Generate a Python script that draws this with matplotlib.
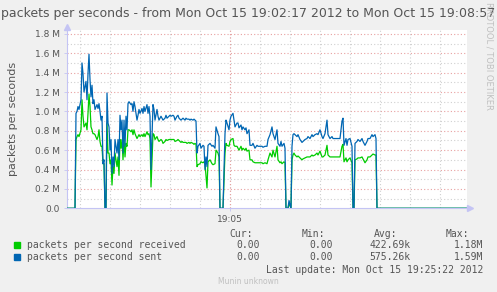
import matplotlib
matplotlib.use("Agg")
import matplotlib.pyplot as plt
import numpy as np

# seconds after 19:02:17, values in millions of packets per second
t_sec = [0, 8, 9, 10, 11, 12, 14, 15, 16, 17, 19, 20, 21, 22, 23, 24, 25, 26, 27, 28,
         30, 31, 32, 33, 34, 35, 36, 37, 38, 39, 40, 41, 42, 43, 44, 45, 46, 47, 48, 50,
         51, 52, 53, 54, 55, 56, 57, 58, 59, 60, 61, 62, 64, 65, 66, 67, 68, 70, 71, 72,
         73, 75, 76, 77, 78, 80, 81, 82, 83, 84, 86, 87, 88, 90, 91, 92, 94, 95, 96, 98,
         99, 100, 102, 103, 104, 106, 107, 108, 110, 111, 112, 114, 115, 116, 118, 119, 120, 122, 123, 124,
         126, 127, 128, 129, 130, 131, 133, 134, 136, 137, 138, 139, 140, 141, 143, 145, 146, 148, 149, 151,
         152, 153, 156, 158, 159, 160, 162, 163, 164, 166, 167, 168, 170, 171, 172, 174, 175, 176, 178, 179,
         180, 182, 183, 185, 186, 188, 190, 191, 193, 195, 196, 198, 200, 201, 203, 205, 206, 208, 210, 211,
         213, 214, 215, 217, 218, 219, 221, 222, 224, 225, 226, 227, 228, 230, 231, 233, 235, 236, 238, 240,
         241, 243, 245, 246, 248, 250, 251, 253, 255, 256, 258, 260, 261, 263, 265, 266, 268, 270, 271, 273,
         275, 276, 277, 279, 280, 281, 283, 285, 286, 287, 288, 290, 291, 293, 295, 296, 298, 300, 301, 303,
         305, 306, 308, 309, 310, 400]

sent = [0, 0, 0.98, 1.00, 1.05, 1.02, 1.12, 1.50, 1.39, 1.20, 1.31, 1.12, 1.39, 1.59, 1.33, 1.15, 1.27, 1.08, 1.12, 1.02,
        1.07, 1.03, 1.08, 1.00, 0.91, 0.95, 0.46, 0.50, 0.0, 0.0, 1.19, 0.88, 0.84, 0.60, 0.71, 0.36, 0.53, 0.43, 0.71, 0.57,
        0.71, 0.50, 0.96, 0.81, 0.91, 0.57, 0.91, 0.64, 0.95, 0.81, 1.08, 1.10, 1.07, 1.08, 1.00, 1.10, 1.05, 0.91, 0.96, 1.02,
        0.98, 1.03, 0.98, 1.05, 1.00, 1.07, 0.98, 1.05, 0.95, 0.40, 1.07, 1.02, 0.91, 1.02, 0.95, 0.91, 0.95, 0.93, 0.91, 0.93,
        0.96, 0.93, 0.95, 0.96, 0.95, 0.96, 0.95, 0.91, 0.95, 0.96, 0.93, 0.91, 0.92, 0.93, 0.91, 0.93, 0.92, 0.92, 0.91, 0.92,
        0.91, 0.92, 0.91, 0.90, 0.57, 0.64, 0.67, 0.62, 0.65, 0.64, 0.40, 0.53, 0.43, 0.65, 0.67, 0.64, 0.65, 0.62, 0.84, 0.77,
        0.74, 0.0, 0.0, 0.77, 0.91, 0.88, 0.81, 0.91, 0.95, 0.98, 0.91, 0.84, 0.88, 0.88, 0.83, 0.86, 0.81, 0.84, 0.81, 0.83,
        0.77, 0.81, 0.65, 0.65, 0.67, 0.62, 0.65, 0.64, 0.64, 0.64, 0.63, 0.64, 0.64, 0.71, 0.76, 0.84, 0.77, 0.71, 0.81, 0.67,
        0.64, 0.69, 0.64, 0.67, 0.62, 0.0, 0.0, 0.08, 0.0, 0.64, 0.76, 0.77, 0.76, 0.74, 0.76, 0.71, 0.68, 0.69, 0.71, 0.72,
        0.74, 0.72, 0.76, 0.74, 0.76, 0.77, 0.76, 0.81, 0.74, 0.72, 0.77, 0.91, 0.76, 0.72, 0.74, 0.72, 0.72, 0.72, 0.72, 0.72,
        0.90, 0.93, 0.65, 0.72, 0.65, 0.71, 0.72, 0.64, 0.0, 0.0, 0.67, 0.69, 0.71, 0.69, 0.72, 0.69, 0.65, 0.69, 0.72, 0.72,
        0.76, 0.74, 0.76, 0.72, 0.0, 0.0]

received = [0, 0, 0.71, 0.74, 0.76, 0.74, 0.81, 1.12, 0.95, 0.84, 0.88, 0.81, 0.98, 1.18, 1.05, 0.84, 0.81, 0.77, 0.77, 0.76,
            0.71, 0.74, 0.81, 0.69, 0.64, 0.64, 0.46, 0.46, 0.0, 0.0, 0.88, 0.57, 0.57, 0.46, 0.50, 0.24, 0.43, 0.36, 0.57, 0.43,
            0.53, 0.34, 0.71, 0.62, 0.71, 0.50, 0.71, 0.53, 0.67, 0.64, 0.81, 0.81, 0.79, 0.81, 0.76, 0.81, 0.77, 0.72, 0.74, 0.76,
            0.74, 0.76, 0.74, 0.77, 0.74, 0.79, 0.76, 0.77, 0.72, 0.22, 0.77, 0.76, 0.71, 0.74, 0.71, 0.69, 0.71, 0.70, 0.67, 0.69,
            0.71, 0.70, 0.71, 0.71, 0.71, 0.71, 0.71, 0.69, 0.70, 0.71, 0.70, 0.68, 0.69, 0.68, 0.68, 0.68, 0.67, 0.68, 0.67, 0.68,
            0.67, 0.66, 0.67, 0.66, 0.43, 0.45, 0.46, 0.48, 0.47, 0.48, 0.46, 0.33, 0.21, 0.48, 0.50, 0.46, 0.45, 0.46, 0.60, 0.57,
            0.53, 0.0, 0.0, 0.57, 0.67, 0.65, 0.64, 0.69, 0.71, 0.72, 0.65, 0.64, 0.64, 0.62, 0.60, 0.64, 0.60, 0.62, 0.60, 0.62,
            0.59, 0.60, 0.50, 0.50, 0.48, 0.47, 0.47, 0.47, 0.47, 0.47, 0.46, 0.47, 0.46, 0.50, 0.57, 0.53, 0.60, 0.53, 0.64, 0.50,
            0.47, 0.48, 0.46, 0.48, 0.47, 0.0, 0.0, 0.05, 0.0, 0.50, 0.55, 0.57, 0.55, 0.53, 0.54, 0.52, 0.50, 0.51, 0.52, 0.53,
            0.53, 0.53, 0.55, 0.54, 0.55, 0.57, 0.55, 0.59, 0.53, 0.53, 0.55, 0.65, 0.55, 0.53, 0.53, 0.53, 0.53, 0.53, 0.53, 0.53,
            0.64, 0.66, 0.48, 0.52, 0.48, 0.50, 0.52, 0.47, 0.0, 0.0, 0.50, 0.51, 0.52, 0.52, 0.53, 0.51, 0.47, 0.50, 0.53, 0.53,
            0.55, 0.56, 0.55, 0.55, 0.0, 0.0]

y_ticks = [0.0, 0.2, 0.4, 0.6, 0.8, 1.0, 1.2, 1.4, 1.6, 1.8]
y_tick_labels = ["0.0", "0.2 M", "0.4 M", "0.6 M", "0.8 M", "1.0 M", "1.2 M", "1.4 M", "1.6 M", "1.8 M"]
minor_times = [13 + 30 * k for k in range(13)]
major_time, major_label = 163, "19:05"

legend_names = ["packets per second received", "packets per second sent"]
legend_colors = ["#00cc00", "#0066b3"]
stat_heads = ["Cur:", "Min:", "Avg:", "Max:"]
stat_values = [["0.00", "0.00", "422.69k", "1.18M"],
               ["0.00", "0.00", "575.26k", "1.59M"]]

W, H = 497, 292
TXT = "#555555"
MONO = "DejaVu Sans Mono"
AXC = "#c4c4f4"

fig = plt.figure(figsize=(W / 100, H / 100), dpi=100, facecolor="#f0f0f0")
ax = fig.add_axes([67 / W, (H - 208.3) / H, 400 / W, 178.3 / H])
ax.set_facecolor("white")
ax.set_xlim(0, 400)
ax.set_ylim(0, 1.84e6)

# grid: minor grey, major red, all dotted
for v in np.arange(0.1, 1.81, 0.1):
    major = abs(v * 5 - round(v * 5)) < 1e-6
    ax.axhline(v * 1e6, color="#e8a0a0" if major else "#d0d0d0", lw=0.8,
               ls=(0, (1, 2)), zorder=1)
for tm in minor_times:
    ax.axvline(tm, color="#d0d0d0", lw=0.8, ls=(0, (1, 2)), zorder=1)
ax.axvline(major_time, color="#e8a0a0", lw=0.8, ls=(0, (1, 2)), zorder=1)

ax.plot(t_sec, np.array(received) * 1e6, color=legend_colors[0], lw=0.9, zorder=3)
ax.plot(t_sec, np.array(sent) * 1e6, color=legend_colors[1], lw=0.9, zorder=4)

for s in ["top", "right"]:
    ax.spines[s].set_visible(False)
for s in ["left", "bottom"]:
    ax.spines[s].set_color(AXC)
    ax.spines[s].set_linewidth(0.8)
ax.plot([0], [1.87e6], marker="^", ms=4, color=AXC, clip_on=False, zorder=5)
ax.plot([403], [0], marker=">", ms=4, color=AXC, clip_on=False, zorder=5)

ax.set_yticks([v * 1e6 for v in y_ticks])
ax.set_yticklabels(y_tick_labels)
ax.set_xticks([major_time])
ax.set_xticklabels([major_label])
ax.tick_params(axis="both", length=2, width=0.6, color=AXC, labelsize=6.5,
               labelcolor=TXT, pad=3)
ax.set_ylabel("packets per seconds", fontsize=8, color=TXT)
ax.yaxis.set_label_coords(-49 / 400, 0.5)

fig.text(1 / W, 1 - 13 / H, "packets per seconds - from Mon Oct 15 19:02:17 2012 to Mon Oct 15 19:08:57",
         fontsize=9, color=TXT, ha="left", va="center")
fig.text(489 / W, 1 - 2 / H, "RRDTOOL / TOBI OETIKER", rotation=270, fontsize=6,
         color="#c0c0c0", ha="center", va="top")

# legend block
head_right = [253, 325, 397, 469]
val_right = [260, 333, 410.7, 483]
for x, h in zip(head_right, stat_heads):
    fig.text(x / W, 1 - 233.7 / H, h, family=MONO, fontsize=7, color=TXT, ha="right", va="center")
for i, (name, col) in enumerate(zip(legend_names, legend_colors)):
    y = 245.3 + 12 * i
    fig.patches.append(plt.Rectangle((14 / W, 1 - (y + 3) / H), 6 / W, 6 / H,
                                     transform=fig.transFigure, color=col))
    fig.text(27 / W, 1 - y / H, name, family=MONO, fontsize=7, color=TXT, ha="left", va="center")
    for x, v in zip(val_right, stat_values[i]):
        fig.text(x / W, 1 - y / H, v, family=MONO, fontsize=7, color=TXT, ha="right", va="center")
fig.text(483 / W, 1 - 269.7 / H, "Last update: Mon Oct 15 19:25:22 2012", family=MONO,
         fontsize=7, color=TXT, ha="right", va="center")
fig.text(248 / W, 1 - 281 / H, "Munin unknown", fontsize=5.5, color="#c0c0c0",
         ha="center", va="center")

fig.savefig("out.png", dpi=100, facecolor=fig.get_facecolor())
